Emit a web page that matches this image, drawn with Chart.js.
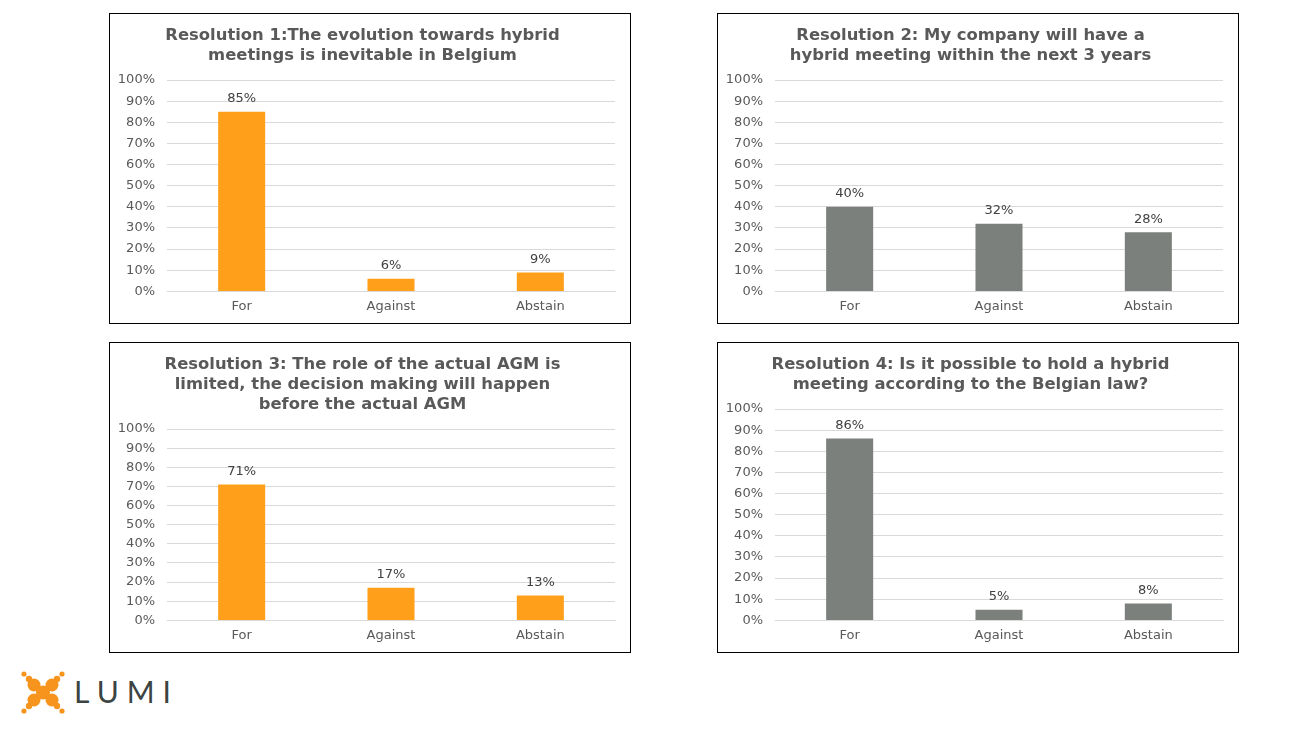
<!DOCTYPE html>
<html>
<head>
<meta charset="utf-8">
<script src="https://cdn.jsdelivr.net/npm/chart.js@4.4.1/dist/chart.umd.min.js"></script>
<style>
    body { margin: 0; background: #ffffff; width: 1312px; height: 736px; position: relative; overflow: hidden; font-family: 'DejaVu Sans', sans-serif; }
    .box { position: absolute; width: 520px; height: 309px; border: 1px solid #000; background: #fff; }
    .box canvas { display: block; }
    .logo { position: absolute; left: 18px; top: 669px; }
</style>
</head>
<body>
<div class="box" style="left:109px; top:13px;"><canvas id="chart-1" width="520" height="309"></canvas></div>
<div class="box" style="left:717px; top:13px;"><canvas id="chart-2" width="520" height="309"></canvas></div>
<div class="box" style="left:109px; top:342px;"><canvas id="chart-3" width="520" height="309"></canvas></div>
<div class="box" style="left:717px; top:342px;"><canvas id="chart-4" width="520" height="309"></canvas></div>

<svg class="logo" width="170" height="50" viewBox="0 0 170 50">
    <g fill="#f7941d">
        <circle cx="6" cy="5" r="2.6"/><circle cx="44" cy="5" r="2.6"/>
        <circle cx="6" cy="42" r="2.6"/><circle cx="44" cy="42" r="2.6"/>
        <circle cx="11" cy="10" r="3.2"/><circle cx="39" cy="10" r="3.2"/>
        <circle cx="11" cy="37" r="3.2"/><circle cx="39" cy="37" r="3.2"/>
        <circle cx="16" cy="16" r="6.5"/><circle cx="34" cy="16" r="6.5"/>
        <circle cx="16" cy="31" r="6.5"/><circle cx="34" cy="31" r="6.5"/>
        <circle cx="25" cy="23.5" r="7"/>
    </g>
    <text x="56" y="34" font-family="Lato, 'DejaVu Sans', sans-serif" font-size="30" font-weight="400" fill="#3c4442" letter-spacing="8">LUMI</text>
</svg>

<script>
// chart data
const categories = ['For', 'Against', 'Abstain'];
const titles = [
    ['Resolution 1:The evolution towards hybrid', 'meetings is inevitable in Belgium'],
    ['Resolution 2: My company will have a', 'hybrid meeting within the next 3 years'],
    ['Resolution 3: The role of the actual AGM is', 'limited, the decision making will happen', 'before the actual AGM'],
    ['Resolution 4: Is it possible to hold a hybrid', 'meeting according to the Belgian law?']
];
const res1Values = [85, 6, 9];
const res2Values = [40, 32, 28];
const res3Values = [71, 17, 13];
const res4Values = [86, 5, 8];
const yTicks = [0, 10, 20, 30, 40, 50, 60, 70, 80, 90, 100];

const ORANGE = '#ff9f1a';
const GREY = '#7c807d';
const FONT = "'DejaVu Sans', sans-serif";

// draws the value above each bar
const barLabels = {
    id: 'barLabels',
    afterDatasetsDraw(chart) {
        const ctx = chart.ctx;
        ctx.save();
        ctx.font = '13px ' + FONT;
        ctx.fillStyle = '#404040';
        ctx.textAlign = 'center';
        ctx.textBaseline = 'middle';
        chart.getDatasetMeta(0).data.forEach((bar, i) => {
            const v = chart.data.datasets[0].data[i];
            ctx.fillText(Math.round(v) + '%', bar.x, bar.y - 13);
        });
        ctx.restore();
    }
};

function buildChart(id, title, values, color) {
    new Chart(document.getElementById(id), {
        type: 'bar',
        data: {
            labels: categories,
            datasets: [{
                data: values,
                backgroundColor: color,
                borderWidth: 0,
                barPercentage: 0.315,
                categoryPercentage: 1
            }]
        },
        options: {
            responsive: false,
            animation: false,
            events: [],
            layout: { padding: { left: 0, right: 15, top: 0, bottom: 2 } },
            plugins: {
                legend: { display: false },
                tooltip: { enabled: false },
                title: {
                    display: true,
                    text: title,
                    color: '#595959',
                    font: { family: FONT, size: 16.4, weight: 'bold', lineHeight: 1.22 },
                    padding: { top: 12, bottom: 14 }
                }
            },
            scales: {
                x: {
                    grid: { display: false, drawTicks: false },
                    border: { color: '#d9d9d9' },
                    ticks: { color: '#595959', font: { family: FONT, size: 13 }, padding: 7 }
                },
                y: {
                    min: 0,
                    max: 100,
                    afterBuildTicks: (scale) => { scale.ticks = yTicks.map(v => ({ value: v })); },
                    afterFit: (scale) => { scale.width = 57; },
                    grid: { color: '#d9d9d9', drawTicks: false },
                    border: { display: false },
                    ticks: {
                        color: '#595959',
                        font: { family: FONT, size: 13 },
                        padding: 12,
                        autoSkip: false,
                        callback: (v) => v + '%'
                    }
                }
            }
        },
        plugins: [barLabels]
    });
}

buildChart('chart-1', titles[0], res1Values, ORANGE);
buildChart('chart-2', titles[1], res2Values, GREY);
buildChart('chart-3', titles[2], res3Values, ORANGE);
buildChart('chart-4', titles[3], res4Values, GREY);
</script>
</body>
</html>
